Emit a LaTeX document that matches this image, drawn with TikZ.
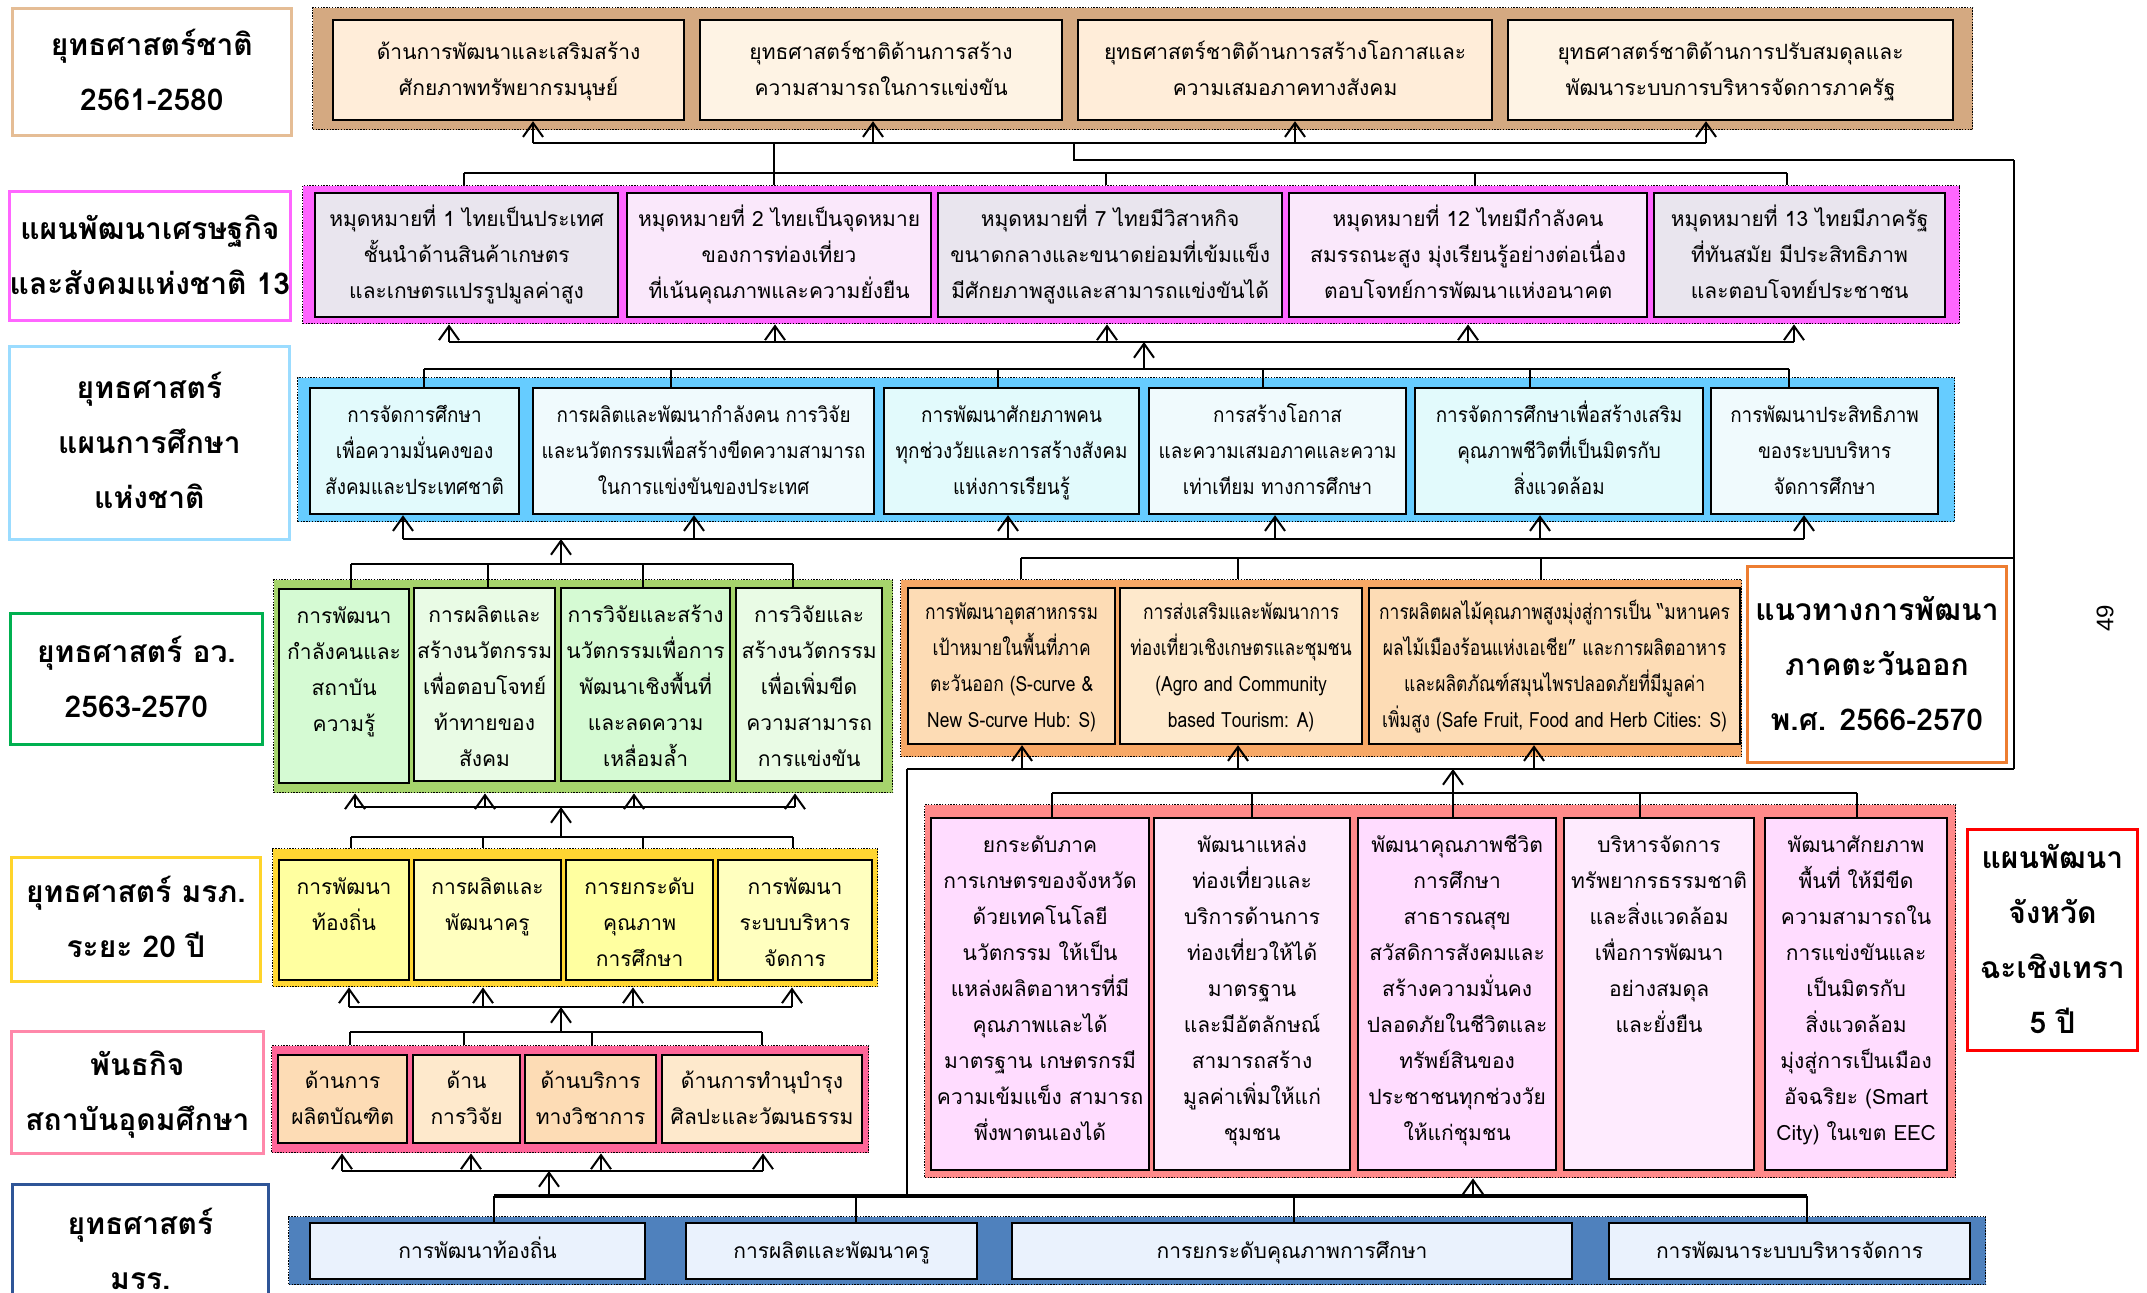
\documentclass[tikz,border=0pt]{standalone}
\usepackage{fontspec}
\setmainfont[Script=Thai]{Loma}
\newfontfamily\thaicondA[Script=Thai, FakeStretch=0.9]{Loma}
\newfontfamily\thaicondB[Script=Thai, FakeStretch=0.83]{Loma}
\newfontfamily\pgnum{Liberation Sans}
\usetikzlibrary{arrows.meta}
\definecolor{cA}{HTML}{D4A981}
\definecolor{cAl}{HTML}{E5BD95}
\definecolor{fA1}{HTML}{FFEDD9}
\definecolor{fA2}{HTML}{FEF3E4}
\definecolor{cB}{HTML}{FF66FF}
\definecolor{fB1}{HTML}{E9E5EE}
\definecolor{fB2}{HTML}{FAE8FB}
\definecolor{cD}{HTML}{66CCFF}
\definecolor{cDl}{HTML}{9BDCFF}
\definecolor{fD1}{HTML}{E2FAFC}
\definecolor{fD2}{HTML}{F0FAFD}
\definecolor{cE}{HTML}{A6D46C}
\definecolor{cEl}{HTML}{00B050}
\definecolor{fE1}{HTML}{D5FAD3}
\definecolor{fE2}{HTML}{E9FBE5}
\definecolor{cF}{HTML}{FFD632}
\definecolor{cFl}{HTML}{FFD42A}
\definecolor{fF1}{HTML}{FFFFA0}
\definecolor{fF2}{HTML}{FFFFBF}
\definecolor{cG}{HTML}{FF6699}
\definecolor{cGl}{HTML}{FF88AA}
\definecolor{fG1}{HTML}{FDDCB5}
\definecolor{fG2}{HTML}{FEE9CC}
\definecolor{cH}{HTML}{F7A866}
\definecolor{cHl}{HTML}{ED7D31}
\definecolor{cP}{HTML}{FF8A8A}
\definecolor{cPl}{HTML}{FF0000}
\definecolor{fP1}{HTML}{FFDCFF}
\definecolor{fP2}{HTML}{FEEBFE}
\definecolor{cK}{HTML}{4F81BD}
\definecolor{cKl}{HTML}{2F5597}
\definecolor{fK}{HTML}{EAF2FD}
\newcommand\bxfont{\fontsize{10.5}{18}\selectfont}
\newcommand\bxfontA{\thaicondA\fontsize{10.5}{18}\selectfont}
\newcommand\bxfontB{\thaicondB\fontsize{10.5}{18}\selectfont}
\newcommand\lbfont{\fontsize{15}{27.5}\selectfont\bfseries}
\newdimen\toppad \toppad=4.5pt
\newcommand\stk[1]{\vbox{\let\\\cr\halign{\hfil\strut##\hfil\cr#1\crcr}}}
\newcommand\bx[8]{%
  \pgfmathsetmacro\bw{(#4-#2)*0.5}%
  \pgfmathsetmacro\bh{(#5-#3)*0.5}%
  \node[inner sep=0pt, anchor=north west, minimum width=\bw pt, minimum height=\bh pt, #6] (#1) at (#2,#3)
   {\ifx t#7\vbox to \bh pt{\kern\toppad\stk{#8}\vfil}\else\stk{#8}\fi};}
\tikzset{
  cont/.style={draw=black, line width=0.7pt, dash pattern=on 0.7pt off 0.7pt},
  bxs/.style={draw=black, line width=1.1pt, font=\bxfont},
  bxa/.style={bxs, font=\bxfontA},
  bxb/.style={bxs, font=\bxfontB},
  lbl/.style={fill=white, line width=1.4pt, font=\lbfont},
  con/.style={line width=1pt, draw=black},
  arr/.style={con, -{Straight Barb[length=7pt,width=10pt]}},
}
\begin{document}
\begin{tikzpicture}[x=0.5pt, y=-0.5pt]
\useasboundingbox (0,0) rectangle (2147,1292);
% containers
\bx{C1}{312}{7}{1972}{129}{cont,fill=cA}{c}{}
\bx{C2}{302}{185}{1959}{323}{cont,fill=cB}{c}{}
\bx{C3}{297}{377}{1954}{521}{cont,fill=cD}{c}{}
\bx{C4}{273}{579}{892}{792}{cont,fill=cE}{c}{}
\bx{C5}{272}{848}{877}{986}{cont,fill=cF}{c}{}
\bx{C6}{271}{1045}{868}{1152}{cont,fill=cG}{c}{}
\bx{C7}{900}{579}{1741}{756}{cont,fill=cH}{c}{}
\bx{C8}{924}{804}{1955}{1177}{cont,fill=cP}{c}{}
\bx{C9}{288}{1216}{1985}{1284}{cont,fill=cK}{c}{}
% row A
\bx{A1}{332}{19}{683}{119}{bxs,fill=fA1}{c}{ด้านการพัฒนาและเสริมสร้าง\\ศักยภาพทรัพยากรมนุษย์}
\bx{A2}{699}{19}{1061}{119}{bxs,fill=fA2}{c}{ยุทธศาสตร์ชาติด้านการสร้าง\\ความสามารถในการแข่งขัน}
\bx{A3}{1077}{19}{1491}{119}{bxs,fill=fA1}{c}{ยุทธศาสตร์ชาติด้านการสร้างโอกาสและ\\ความเสมอภาคทางสังคม}
\bx{A4}{1507}{19}{1952}{119}{bxs,fill=fA2}{c}{ยุทธศาสตร์ชาติด้านการปรับสมดุลและ\\พัฒนาระบบการบริหารจัดการภาครัฐ}
% row B
\bx{B1}{314}{192}{617}{316}{bxs,fill=fB1}{c}{หมุดหมายที่ 1 ไทยเป็นประเทศ\\ชั้นนำด้านสินค้าเกษตร\\และเกษตรแปรรูปมูลค่าสูง}
\bx{B2}{626}{192}{930}{316}{bxs,fill=fB2}{c}{หมุดหมายที่ 2 ไทยเป็นจุดหมาย\\ของการท่องเที่ยว\\ที่เน้นคุณภาพและความยั่งยืน}
\bx{B3}{937}{192}{1281}{316}{bxs,fill=fB1}{c}{หมุดหมายที่ 7 ไทยมีวิสาหกิจ\\ขนาดกลางและขนาดย่อมที่เข้มแข็ง\\มีศักยภาพสูงและสามารถแข่งขันได้}
\bx{B4}{1288}{192}{1646}{316}{bxs,fill=fB2}{c}{หมุดหมายที่ 12 ไทยมีกำลังคน\\สมรรถนะสูง มุ่งเรียนรู้อย่างต่อเนื่อง\\ตอบโจทย์การพัฒนาแห่งอนาคต}
\bx{B5}{1653}{192}{1944}{316}{bxs,fill=fB1}{c}{หมุดหมายที่ 13 ไทยมีภาครัฐ\\ที่ทันสมัย มีประสิทธิภาพ\\และตอบโจทย์ประชาชน}
% row D
\bx{D1}{309}{387}{518}{513}{bxa,fill=fD1}{c}{การจัดการศึกษา\\เพื่อความมั่นคงของ\\สังคมและประเทศชาติ}
\bx{D2}{532}{387}{873}{513}{bxa,fill=fD2}{c}{การผลิตและพัฒนากำลังคน การวิจัย\\และนวัตกรรมเพื่อสร้างขีดความสามารถ\\ในการแข่งขันของประเทศ}
\bx{D3}{883}{387}{1138}{513}{bxa,fill=fD1}{c}{การพัฒนาศักยภาพคน\\ทุกช่วงวัยและการสร้างสังคม\\แห่งการเรียนรู้}
\bx{D4}{1148}{387}{1405}{513}{bxa,fill=fD2}{c}{การสร้างโอกาส\\และความเสมอภาคและความ\\เท่าเทียม ทางการศึกษา}
\bx{D5}{1414}{387}{1702}{513}{bxa,fill=fD1}{c}{การจัดการศึกษาเพื่อสร้างเสริม\\คุณภาพชีวิตที่เป็นมิตรกับ\\สิ่งแวดล้อม}
\bx{D6}{1710}{387}{1937}{513}{bxa,fill=fD2}{c}{การพัฒนาประสิทธิภาพ\\ของระบบบริหาร\\จัดการศึกษา}
% row E
\bx{E1}{278}{588}{408}{782}{bxs,fill=fE1}{t}{การพัฒนา\\กำลังคนและ\\สถาบัน\\ความรู้}
\bx{E2}{413}{587}{554}{780}{bxs,fill=fE2}{t}{การผลิตและ\\สร้างนวัตกรรม\\เพื่อตอบโจทย์\\ท้าทายของ\\สังคม}
\bx{E3}{560}{587}{729}{780}{bxs,fill=fE1}{t}{การวิจัยและสร้าง\\นวัตกรรมเพื่อการ\\พัฒนาเชิงพื้นที่\\และลดความ\\เหลื่อมล้ำ}
\bx{E4}{735}{587}{881}{780}{bxs,fill=fE2}{t}{การวิจัยและ\\สร้างนวัตกรรม\\เพื่อเพิ่มขีด\\ความสามารถ\\การแข่งขัน}
% row F
\bx{F1}{278}{859}{408}{979}{bxs,fill=fF1}{t}{การพัฒนา\\ท้องถิ่น}
\bx{F2}{413}{859}{560}{979}{bxs,fill=fF2}{t}{การผลิตและ\\พัฒนาครู}
\bx{F3}{565}{859}{712}{979}{bxs,fill=fF1}{t}{การยกระดับ\\คุณภาพ\\การศึกษา}
\bx{F4}{717}{859}{871}{979}{bxs,fill=fF2}{t}{การพัฒนา\\ระบบบริหาร\\จัดการ}
% row G
\bx{G1}{277}{1054}{406}{1142}{bxs,fill=fG1}{c}{ด้านการ\\ผลิตบัณฑิต}
\bx{G2}{412}{1054}{519}{1142}{bxs,fill=fG2}{c}{ด้าน\\การวิจัย}
\bx{G3}{524}{1054}{655}{1142}{bxs,fill=fG1}{c}{ด้านบริการ\\ทางวิชาการ}
\bx{G4}{661}{1054}{861}{1142}{bxs,fill=fG2}{c}{ด้านการทำนุบำรุง\\ศิลปะและวัฒนธรรม}
% row H
\bx{H1}{907}{587}{1114}{743}{bxb,fill=fG1}{c}{การพัฒนาอุตสาหกรรม\\เป้าหมายในพื้นที่ภาค\\ตะวันออก (S-curve \&\\New S-curve Hub: S)}
\bx{H2}{1119}{587}{1361}{743}{bxb,fill=fG2}{c}{การส่งเสริมและพัฒนาการ\\ท่องเที่ยวเชิงเกษตรและชุมชน\\(Agro and Community\\based Tourism: A)}
\bx{H3}{1368}{587}{1739}{743}{bxb,fill=fG1}{c}{การผลิตผลไม้คุณภาพสูงมุ่งสู่การเป็น “มหานคร\\ผลไม้เมืองร้อนแห่งเอเชีย” และการผลิตอาหาร\\และผลิตภัณฑ์สมุนไพรปลอดภัยที่มีมูลค่า\\เพิ่มสูง (Safe Fruit, Food and Herb Cities: S)}
% row P
\bx{P1}{930}{817}{1148}{1169}{bxs,fill=fP1}{t}{ยกระดับภาค\\การเกษตรของจังหวัด\\ด้วยเทคโนโลยี\\นวัตกรรม ให้เป็น\\แหล่งผลิตอาหารที่มี\\คุณภาพและได้\\มาตรฐาน เกษตรกรมี\\ความเข้มแข็ง สามารถ\\พึ่งพาตนเองได้}
\bx{P2}{1153}{817}{1349}{1169}{bxs,fill=fP2}{t}{พัฒนาแหล่ง\\ท่องเที่ยวและ\\บริการด้านการ\\ท่องเที่ยวให้ได้\\มาตรฐาน\\และมีอัตลักษณ์\\สามารถสร้าง\\มูลค่าเพิ่มให้แก่\\ชุมชน}
\bx{P3}{1357}{817}{1555}{1169}{bxs,fill=fP1}{t}{พัฒนาคุณภาพชีวิต\\การศึกษา\\สาธารณสุข\\สวัสดิการสังคมและ\\สร้างความมั่นคง\\ปลอดภัยในชีวิตและ\\ทรัพย์สินของ\\ประชาชนทุกช่วงวัย\\ให้แก่ชุมชน}
\bx{P4}{1563}{817}{1753}{1169}{bxs,fill=fP2}{t}{บริหารจัดการ\\ทรัพยากรธรรมชาติ\\และสิ่งแวดล้อม\\เพื่อการพัฒนา\\อย่างสมดุล\\และยั่งยืน}
\bx{P5}{1764}{817}{1946}{1169}{bxs,fill=fP1}{t}{พัฒนาศักยภาพ\\พื้นที่ ให้มีขีด\\ความสามารถใน\\การแข่งขันและ\\เป็นมิตรกับ\\สิ่งแวดล้อม\\มุ่งสู่การเป็นเมือง\\อัจฉริยะ (Smart\\City) ในเขต EEC}
% row K
\bx{K1}{309}{1222}{644}{1278}{bxs,fill=fK}{c}{การพัฒนาท้องถิ่น}
\bx{K2}{685}{1222}{976}{1278}{bxs,fill=fK}{c}{การผลิตและพัฒนาครู}
\bx{K3}{1011}{1222}{1571}{1278}{bxs,fill=fK}{c}{การยกระดับคุณภาพการศึกษา}
\bx{K4}{1608}{1222}{1969}{1278}{bxs,fill=fK}{c}{การพัฒนาระบบบริหารจัดการ}
% labels
\bx{L1}{11}{7}{290}{134}{lbl,draw=cAl}{c}{ยุทธศาสตร์ชาติ\\2561-2580}
\bx{L2}{8}{190}{289}{319}{lbl,draw=cB}{c}{แผนพัฒนาเศรษฐกิจ\\และสังคมแห่งชาติ 13}
\bx{L3}{8}{345}{288}{538}{lbl,draw=cDl}{c}{ยุทธศาสตร์\\แผนการศึกษา\\แห่งชาติ}
\bx{L4}{9}{612}{261}{743}{lbl,draw=cEl}{c}{ยุทธศาสตร์ อว.\\2563-2570}
\bx{L5}{10}{856}{259}{980}{lbl,draw=cFl}{c}{ยุทธศาสตร์ มรภ.\\ระยะ 20 ปี}
\bx{L6}{10}{1030}{262}{1152}{lbl,draw=cGl}{c}{พันธกิจ\\สถาบันอุดมศึกษา}
\bx{L7}{1746}{565}{2005}{761}{lbl,draw=cHl}{c}{แนวทางการพัฒนา\\ภาคตะวันออก\\พ.ศ. 2566-2570}
\bx{L8}{1966}{828}{2136}{1049}{lbl,draw=cPl}{c}{แผนพัฒนา\\จังหวัด\\ฉะเชิงเทรา\\5 ปี}
\bx{L9}{11}{1183}{267}{1317}{lbl,draw=cKl}{c}{ยุทธศาสตร์\\มรร.}
% page number
\node[rotate=90, font=\pgnum\fontsize{12}{14}\selectfont, inner sep=0pt] (pg) at (2105,618) {49};
% ---------- connectors ----------
% A
\coordinate (Ad1) at (533,143); \coordinate (Ad2) at (873,143);
\coordinate (Ad3) at (1295,143); \coordinate (Ad4) at (1706,143);
\coordinate (Adm) at (774,143); \coordinate (Adr) at (1074,143);
\coordinate (Rt) at (2014,160);
\draw[con] (Ad1) -- (Ad4);
\foreach \i in {1,...,4} \draw[arr] (Ad\i) -- (Ad\i |- A\i.south);
\draw[con] (Adr) |- (Rt);
% B
\coordinate (Bu1) at (464,173); \coordinate (Bu2) at (774,173); \coordinate (Bu3) at (1106,173);
\coordinate (Bu4) at (1475,173); \coordinate (Bu5) at (1787,173);
\draw[con] (Adm) -- (Bu2);
\draw[con] (Bu1) -- (Bu5);
\foreach \i in {1,...,5} \draw[con] (Bu\i) -- (Bu\i |- C2.north);
\coordinate (Bd1) at (449,342); \coordinate (Bd2) at (775,342); \coordinate (Bd3) at (1107,342);
\coordinate (Bd4) at (1468,342); \coordinate (Bd5) at (1794,342);
\draw[con] (Bd1) -- (Bd5);
\foreach \i in {1,...,5} \draw[arr] (Bd\i) -- (Bd\i |- C2.south);
% D
\coordinate (Du1) at (424,369); \coordinate (Du2) at (671,369); \coordinate (Du3) at (998,369);
\coordinate (Du4) at (1263,369); \coordinate (Du5) at (1530,369); \coordinate (Du6) at (1789,369);
\coordinate (Dum) at (1144,369);
\draw[con] (Du1) -- (Du6);
\foreach \i in {1,...,6} \draw[con] (Du\i) -- (Du\i |- D\i.north);
\draw[arr] (Dum) -- (Dum |- Bd1);
\coordinate (Dd1) at (403,539); \coordinate (Dd2) at (694,539); \coordinate (Dd3) at (1008,539);
\coordinate (Dd4) at (1275,539); \coordinate (Dd5) at (1540,539); \coordinate (Dd6) at (1804,539);
\draw[con] (Dd1) -- (Dd6);
\foreach \i in {1,...,6} \draw[arr] (Dd\i) -- (Dd\i |- D\i.south);
% E
\coordinate (Eu1) at (351,564); \coordinate (Eu2) at (488,564); \coordinate (Eu3) at (643,564);
\coordinate (Eu4) at (793,564); \coordinate (Eum) at (561,564);
\draw[con] (Eu1) -- (Eu4);
\foreach \i in {1,...,4} \draw[con] (Eu\i) -- (Eu\i |- E\i.north);
\draw[arr] (Eum) -- (Eum |- Dd1);
\coordinate (Ed1) at (355,807); \coordinate (Ed2) at (485,807); \coordinate (Ed3) at (634,807);
\coordinate (Ed4) at (795,807);
\draw[con] (Ed1) -- (Ed4);
\foreach \i in {1,...,4} \draw[arr] (Ed\i) -- (Ed\i |- C4.south);
% F
\coordinate (Fu1) at (351,837); \coordinate (Fu2) at (483,837); \coordinate (Fu3) at (643,837);
\coordinate (Fu4) at (793,837); \coordinate (Fum) at (561,837);
\draw[con] (Fu1) -- (Fu4);
\foreach \i in {1,...,4} \draw[con] (Fu\i) -- (Fu\i |- C5.north);
\draw[arr] (Fum) -- (Fum |- Ed1);
\coordinate (Fd1) at (349,1007); \coordinate (Fd2) at (483,1007); \coordinate (Fd3) at (633,1007);
\coordinate (Fd4) at (792,1007);
\draw[con] (Fd1) -- (Fd4);
\foreach \i in {1,...,4} \draw[arr] (Fd\i) -- (Fd\i |- C5.south);
% G
\coordinate (Gu1) at (350,1032); \coordinate (Gu2) at (464,1032); \coordinate (Gu3) at (592,1032);
\coordinate (Gu4) at (762,1032); \coordinate (Gum) at (561,1032);
\draw[con] (Gu1) -- (Gu4);
\foreach \i in {1,...,4} \draw[con] (Gu\i) -- (Gu\i |- C6.north);
\draw[arr] (Gum) -- (Gum |- Fd1);
\coordinate (Gd1) at (342,1171); \coordinate (Gd2) at (471,1171); \coordinate (Gd3) at (601,1171);
\coordinate (Gd4) at (763,1171);
\draw[con] (Gd1) -- (Gd4);
\foreach \i in {1,...,4} \draw[arr] (Gd\i) -- (Gd\i |- C6.south);
% K
\coordinate (Ku1) at (494,1196); \coordinate (Ku2) at (856,1196); \coordinate (Ku3) at (1294,1196);
\coordinate (Ku4) at (1807,1196);
\coordinate (Kum) at (549,1196); \coordinate (Kup) at (1473,1196); \coordinate (Kuo) at (907,1196);
\draw[line width=2pt] (Ku1) -- (Ku4);
\foreach \i in {1,...,4} \draw[con] (Ku\i) -- (Ku\i |- K\i.north);
\draw[arr] (Kum) -- (Kum |- Gd1);
\draw[arr] (Kup) -- (Kup |- C8.south);
% H
\coordinate (Hu1) at (1021,558); \coordinate (Hu2) at (1238,558); \coordinate (Hu3) at (1541,558);
\coordinate (Hur) at (2014,558);
\draw[con] (Hu1) -- (Hur);
\foreach \i in {1,...,3} \draw[con] (Hu\i) -- (Hu\i |- C7.north);
\coordinate (Hd1) at (1022,769); \coordinate (Hd2) at (1238,769); \coordinate (Hd3) at (1534,769);
\coordinate (Hdl) at (907,769); \coordinate (Hdr) at (2014,769);
\draw[con] (Hdl) -- (Hdr);
\draw[con] (Rt) -- (Hdr);
\draw[con] (Hdl) -- (Kuo);
\foreach \i in {1,...,3} \draw[arr] (Hd\i) -- (Hd\i |- H\i.south);
% P
\coordinate (Pu1) at (1052,793); \coordinate (Pu2) at (1252,793); \coordinate (Pu3) at (1453,793);
\coordinate (Pu4) at (1640,793); \coordinate (Pu5) at (1857,793);
\draw[con] (Pu1) -- (Pu5);
\foreach \i in {1,...,5} \draw[con] (Pu\i) -- (Pu\i |- P\i.north);
\draw[arr] (Pu3) -- (Pu3 |- Hd1);
\end{tikzpicture}
\end{document}
